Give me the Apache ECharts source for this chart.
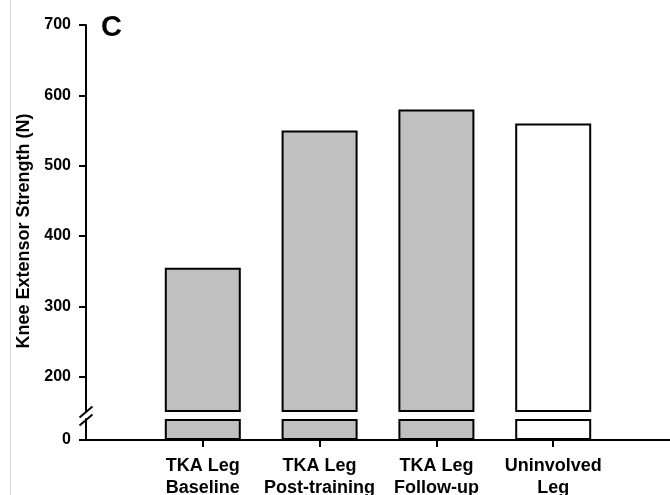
<!DOCTYPE html>
<html>
<head>
<meta charset="utf-8">
<script src="https://cdn.jsdelivr.net/npm/echarts@6/dist/echarts.min.js"></script>
<style>
  html, body { margin: 0; padding: 0; background: #fff; }
  #chart { width: 670px; height: 495px; }
</style>
</head>
<body>
<div id="chart"></div>
<script>
// Knee extensor strength by condition
const categories = ['TKA Leg\nBaseline', 'TKA Leg\nPost-training', 'TKA Leg\nFollow-up', 'Uninvolved\nLeg'];
const strength = [355, 550, 580, 560];
const barFills = ['#c0c0c0', '#c0c0c0', '#c0c0c0', '#ffffff'];
const upperTicks = [200, 300, 400, 500, 600, 700];
const lowerTicks = [0];

// broken value axis: upper segment and the short segment near zero
const UPPER_MIN = 150, UPPER_MAX = 700;
const LOWER_MIN = 0, LOWER_MAX = 30;

const FONT = 'Liberation Sans, Arial, sans-serif';
const GRID_LEFT = 86;
const UPPER_TOP = 25, UPPER_H = 387;
const LOWER_TOP = 419, LOWER_H = 21;

const positions = categories.map((_, i) => i + 1);

const axisLineStyle = { color: '#000', width: 2 };
const tickLabel = { color: '#000', fontFamily: FONT, fontWeight: 'bold', fontSize: 16, margin: 15 };

function barData(cap) {
  return strength.map((v, i) => ({
    value: [positions[i], cap == null ? v : Math.min(v, cap)],
    itemStyle: { color: barFills[i] }
  }));
}

const chart = echarts.init(document.getElementById('chart'), null, { renderer: 'canvas' });

const breakY1 = UPPER_TOP + UPPER_H;
const breakY2 = LOWER_TOP + 1;
function slash(cy) {
  return {
    type: 'line', z: 100,
    shape: { x1: GRID_LEFT - 6.5, y1: cy + 5.5, x2: GRID_LEFT + 6.5, y2: cy - 5.5 },
    style: { stroke: '#000', lineWidth: 2 }
  };
}

chart.setOption({
  animation: false,
  backgroundColor: '#fff',
  grid: [
    { left: GRID_LEFT, right: 0, top: UPPER_TOP, height: UPPER_H, outerBoundsMode: 'none', containLabel: false },
    { left: GRID_LEFT, right: 0, top: LOWER_TOP, height: LOWER_H, outerBoundsMode: 'none', containLabel: false }
  ],
  xAxis: [
    { gridIndex: 0, type: 'value', min: 0, max: 5, show: false },
    {
      gridIndex: 1, type: 'value', min: 0, max: 5,
      axisLine: { show: true, lineStyle: axisLineStyle },
      axisTick: { show: true, customValues: positions, length: 7, lineStyle: axisLineStyle },
      axisLabel: {
        customValues: positions,
        formatter: v => categories[Math.round(v) - 1] || '',
        color: '#000', fontFamily: FONT, fontWeight: 'bold', fontSize: 18,
        lineHeight: 22, margin: 15
      },
      splitLine: { show: false }
    }
  ],
  yAxis: [
    {
      gridIndex: 0, type: 'value', min: UPPER_MIN, max: UPPER_MAX, startValue: UPPER_MIN,
      axisLine: { show: true, lineStyle: axisLineStyle },
      axisTick: { show: true, customValues: upperTicks, length: 7, lineStyle: axisLineStyle },
      axisLabel: Object.assign({ customValues: upperTicks }, tickLabel),
      splitLine: { show: false }
    },
    {
      gridIndex: 1, type: 'value', min: LOWER_MIN, max: LOWER_MAX,
      axisLine: { show: true, lineStyle: axisLineStyle },
      axisTick: { show: true, customValues: lowerTicks, length: 7, lineStyle: axisLineStyle },
      axisLabel: Object.assign({ customValues: lowerTicks }, tickLabel),
      splitLine: { show: false }
    }
  ],
  series: [
    {
      type: 'bar', xAxisIndex: 0, yAxisIndex: 0, barWidth: 76, clip: true,
      itemStyle: { borderColor: '#000', borderWidth: 2 },
      data: barData(null)
    },
    {
      type: 'bar', xAxisIndex: 1, yAxisIndex: 1, barWidth: 76, clip: true,
      itemStyle: { borderColor: '#000', borderWidth: 2 },
      data: barData(LOWER_MAX)
    }
  ],
  graphic: [
    {
      type: 'line', silent: true,
      shape: { x1: 10.5, y1: 0, x2: 10.5, y2: 495 },
      style: { stroke: '#d8d8d8', lineWidth: 1 }
    },
    {
      type: 'text', x: 24, y: 231, rotation: Math.PI / 2,
      style: {
        text: 'Knee Extensor Strength (N)', fill: '#000',
        font: 'bold 18px ' + FONT, textAlign: 'center', textVerticalAlign: 'middle'
      }
    },
    {
      type: 'text', x: 101, y: 13,
      style: { text: 'C', fill: '#000', font: 'bold 29px ' + FONT, textAlign: 'left', textVerticalAlign: 'top' }
    },
    slash(breakY1),
    slash(breakY2)
  ]
});
</script>
</body>
</html>
